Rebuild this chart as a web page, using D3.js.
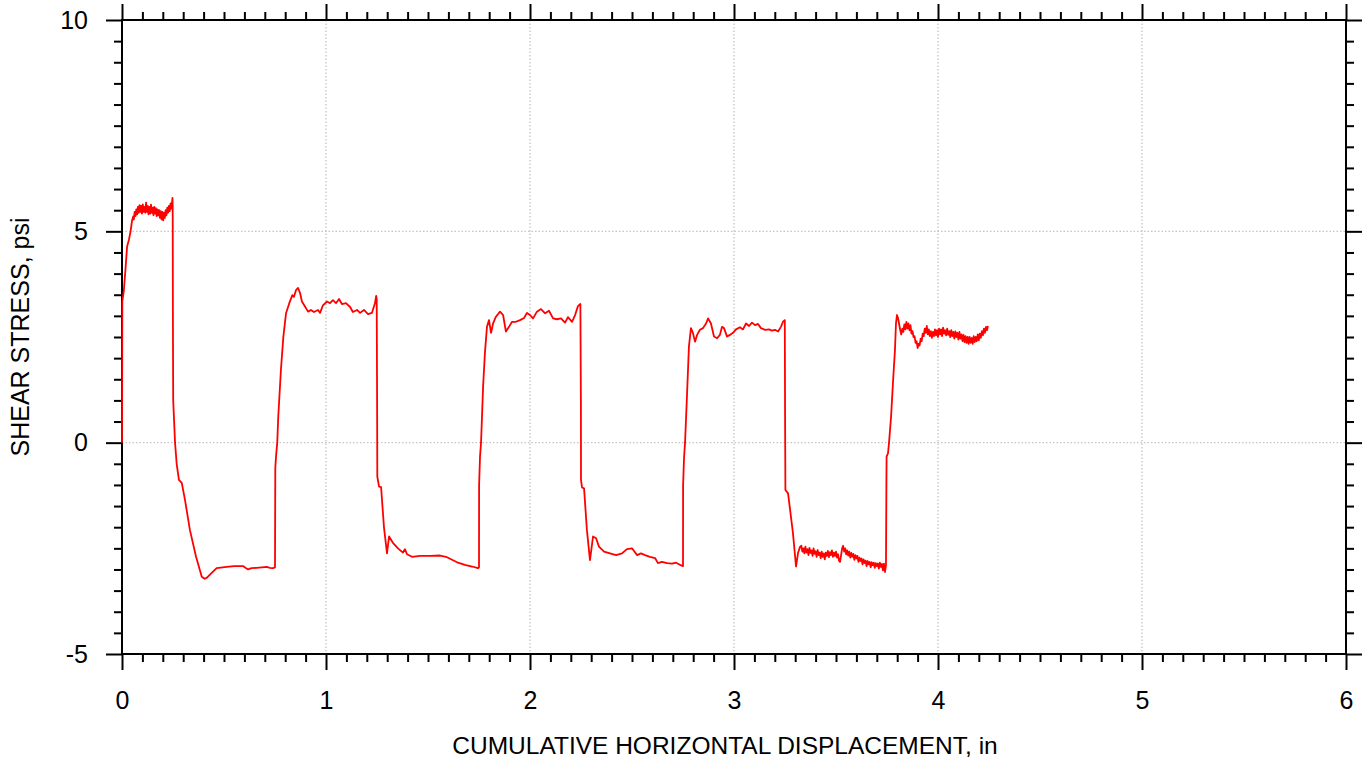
<!DOCTYPE html>
<html>
<head>
<meta charset="utf-8">
<script src="https://cdn.jsdelivr.net/npm/d3@7"></script>
<style>
  html, body { margin: 0; padding: 0; background: #fff; }
  svg { display: block; }
  text { font-family: "Liberation Sans", Arial, Helvetica, sans-serif; fill: #000; }
</style>
</head>
<body>
<svg id="chart" width="1369" height="763"></svg>
<script>
// Shear stress (psi) vs cumulative horizontal displacement (in), reversal shear test.
// Each leg of the test is kept as its own list of [displacement, stress] readings.
const forward1 = [
  [0,0],[0.0008,1.5],[0.0015,3.34],[0.009,3.6],[0.017,4.1],[0.025,4.64],[0.034,4.8],[0.042,5.0],[0.049,5.25],[0.055,5.35],
  [0.058,5.28],[0.062,5.46],[0.066,5.36],[0.070,5.52],[0.074,5.40],[0.078,5.58],[0.082,5.44],[0.086,5.62],[0.090,5.46],
  [0.094,5.60],[0.098,5.42],[0.102,5.64],[0.106,5.46],[0.110,5.58],[0.114,5.44],[0.118,5.68],[0.122,5.46],[0.126,5.60],
  [0.130,5.40],[0.134,5.58],[0.138,5.42],[0.142,5.63],[0.146,5.44],[0.150,5.56],[0.154,5.38],[0.158,5.58],[0.162,5.42],
  [0.166,5.55],[0.170,5.36],[0.174,5.52],[0.178,5.38],[0.182,5.50],[0.186,5.32],[0.190,5.48],[0.194,5.28],[0.198,5.46],
  [0.202,5.26],[0.206,5.44],[0.210,5.32],[0.214,5.50],[0.218,5.38],[0.222,5.56],[0.226,5.44],[0.230,5.60],[0.234,5.48],
  [0.238,5.66],[0.242,5.54],[0.2475,5.79]
];
const reverse1 = [
  [0.2485,5.6],[0.2495,3.0],[0.251,1.0],[0.26,0],[0.268,-0.5],[0.279,-0.88],[0.293,-0.95],[0.309,-1.36],[0.333,-2.07],
  [0.363,-2.7],[0.391,-3.17],[0.405,-3.22],[0.415,-3.2],[0.436,-3.1],[0.464,-2.97],[0.513,-2.94],[0.55,-2.92],[0.593,-2.92],
  [0.605,-2.96],[0.618,-3.0],[0.635,-2.97],[0.66,-2.96],[0.685,-2.95],[0.709,-2.94],[0.725,-2.96],[0.74,-2.97],[0.749,-2.95]
];
const forward2 = [
  [0.750,-2.95],[0.7515,-0.6],[0.755,-0.33],[0.761,0],[0.766,0.62],[0.779,1.72],[0.791,2.51],[0.804,3.06],[0.82,3.3],
  [0.835,3.49],[0.843,3.45],[0.853,3.61],[0.863,3.66],[0.873,3.54],[0.882,3.34],[0.897,3.22],[0.912,3.1],[0.926,3.14],
  [0.941,3.09],[0.961,3.14],[0.971,3.07],[0.985,3.25],[1.005,3.34],[1.02,3.3],[1.034,3.37],[1.049,3.3],[1.064,3.4],
  [1.078,3.28],[1.098,3.3],[1.118,3.21],[1.132,3.09],[1.152,3.14],[1.167,3.07],[1.186,3.14],[1.206,3.04],[1.225,3.07],
  [1.24,3.3],[1.246,3.47]
];
const reverse2 = [
  [1.2485,3.4],[1.2505,1.0],[1.2515,-0.8],[1.26,-1.04],[1.27,-1.05],[1.284,-1.99],[1.299,-2.62],[1.309,-2.22],[1.328,-2.37],
  [1.353,-2.5],[1.377,-2.6],[1.387,-2.52],[1.397,-2.64],[1.422,-2.7],[1.461,-2.68],[1.51,-2.68],[1.559,-2.67],[1.588,-2.7],
  [1.618,-2.77],[1.647,-2.84],[1.681,-2.89],[1.716,-2.93],[1.745,-2.97],[1.75,-2.95]
];
const forward3 = [
  [1.7505,-1.0],[1.755,-0.33],[1.76,0],[1.77,1.32],[1.779,2.12],[1.789,2.74],[1.799,2.9],[1.809,2.6],[1.819,2.82],
  [1.833,2.98],[1.853,3.1],[1.868,3.02],[1.882,2.63],[1.897,2.74],[1.912,2.86],[1.931,2.86],[1.951,2.9],[1.971,2.95],
  [1.985,3.07],[2.0,3.02],[2.015,2.94],[2.034,3.1],[2.054,3.16],[2.074,3.06],[2.093,3.12],[2.113,2.94],[2.132,2.92],
  [2.152,2.94],[2.172,2.84],[2.186,2.97],[2.206,2.86],[2.221,3.02],[2.235,3.23],[2.247,3.28]
];
const reverse3 = [
  [2.2495,1.0],[2.25,-0.88],[2.255,-1.06],[2.265,-1.08],[2.279,-2.07],[2.294,-2.78],[2.309,-2.22],[2.324,-2.26],
  [2.338,-2.46],[2.363,-2.58],[2.392,-2.62],[2.422,-2.66],[2.451,-2.62],[2.475,-2.52],[2.5,-2.5],[2.525,-2.66],
  [2.544,-2.62],[2.564,-2.66],[2.588,-2.7],[2.613,-2.73],[2.627,-2.85],[2.647,-2.82],[2.672,-2.85],[2.696,-2.86],
  [2.716,-2.84],[2.735,-2.89],[2.75,-2.92]
];
const forward4 = [
  [2.7505,-1.0],[2.755,-0.37],[2.76,0],[2.77,1.17],[2.779,2.27],[2.789,2.71],[2.799,2.59],[2.809,2.39],[2.819,2.55],
  [2.833,2.67],[2.848,2.71],[2.863,2.82],[2.873,2.94],[2.887,2.82],[2.902,2.51],[2.917,2.47],[2.931,2.55],[2.941,2.74],
  [2.951,2.71],[2.966,2.51],[2.98,2.55],[2.995,2.6],[3.01,2.68],[3.029,2.73],[3.044,2.68],[3.059,2.82],[3.074,2.76],
  [3.088,2.84],[3.103,2.78],[3.118,2.81],[3.132,2.71],[3.152,2.67],[3.172,2.68],[3.186,2.65],[3.201,2.67],[3.216,2.63],
  [3.23,2.74],[3.24,2.86],[3.249,2.9]
];
const reverse4 = [
  [3.2505,0.5],[3.252,-1.12],[3.265,-1.2],[3.275,-1.59],[3.289,-2.14],[3.304,-2.93],[3.314,-2.61],[3.324,-2.46],
  [3.330,-2.44],[3.335,-2.58],[3.340,-2.50],[3.345,-2.62],[3.350,-2.46],[3.355,-2.60],[3.360,-2.52],[3.365,-2.66],
  [3.370,-2.49],[3.375,-2.61],[3.380,-2.55],[3.385,-2.68],[3.390,-2.50],[3.395,-2.63],[3.400,-2.57],[3.405,-2.70],
  [3.410,-2.54],[3.415,-2.66],[3.420,-2.60],[3.425,-2.73],[3.430,-2.58],[3.435,-2.70],[3.440,-2.62],[3.445,-2.76],
  [3.450,-2.60],[3.455,-2.68],[3.460,-2.56],[3.465,-2.71],[3.470,-2.59],[3.475,-2.66],[3.480,-2.55],[3.485,-2.70],
  [3.490,-2.60],[3.495,-2.68],[3.500,-2.58],[3.505,-2.72],[3.510,-2.64],[3.515,-2.79],[3.520,-2.82],[3.525,-2.66],
  [3.530,-2.50],[3.535,-2.44],[3.540,-2.58],[3.545,-2.50],[3.550,-2.64],[3.555,-2.55],[3.560,-2.67],[3.565,-2.58],
  [3.570,-2.72],[3.575,-2.61],[3.580,-2.70],[3.585,-2.63],[3.590,-2.77],[3.595,-2.66],[3.600,-2.74],[3.605,-2.68],
  [3.610,-2.82],[3.615,-2.72],[3.620,-2.80],[3.625,-2.74],[3.630,-2.88],[3.635,-2.76],[3.640,-2.85],[3.645,-2.79],
  [3.650,-2.92],[3.655,-2.80],[3.660,-2.88],[3.665,-2.82],[3.670,-2.95],[3.675,-2.83],[3.680,-2.90],[3.685,-2.84],
  [3.690,-2.96],[3.695,-2.85],[3.700,-2.92],[3.705,-2.86],[3.710,-2.98],[3.715,-2.84],[3.720,-2.94],[3.725,-2.87],
  [3.730,-3.02],[3.735,-2.86],[3.740,-3.06],[3.745,-2.90]
];
const forward5 = [
  [3.747,-1.0],[3.748,-0.33],[3.755,-0.25],[3.76,0],[3.77,0.62],[3.779,1.4],[3.789,2.19],[3.794,2.82],[3.799,3.02],
  [3.804,2.95],[3.809,2.82],
  [3.815,2.66],[3.820,2.56],[3.825,2.70],[3.830,2.62],[3.835,2.80],[3.840,2.68],[3.845,2.86],[3.850,2.70],[3.855,2.82],
  [3.860,2.66],[3.865,2.78],[3.870,2.58],[3.875,2.64],[3.880,2.50],[3.885,2.52],[3.890,2.36],[3.895,2.40],[3.900,2.24],
  [3.905,2.34],[3.910,2.30],[3.915,2.46],[3.920,2.40],[3.925,2.58],[3.930,2.52],[3.935,2.70],[3.940,2.60],[3.945,2.76],
  [3.950,2.56],[3.955,2.68],[3.960,2.52],[3.965,2.64],[3.970,2.48],[3.975,2.62],[3.980,2.52],[3.985,2.68],[3.990,2.54],
  [3.995,2.66],[4.000,2.50],[4.005,2.70],[4.010,2.56],[4.015,2.68],[4.020,2.52],[4.025,2.72],[4.030,2.58],[4.035,2.66],
  [4.040,2.54],[4.045,2.70],[4.050,2.55],[4.055,2.64],[4.060,2.50],[4.065,2.66],[4.070,2.52],[4.075,2.62],[4.080,2.46],
  [4.085,2.63],[4.090,2.50],[4.095,2.60],[4.100,2.44],[4.105,2.62],[4.110,2.46],[4.115,2.56],[4.120,2.40],[4.125,2.55],
  [4.130,2.38],[4.135,2.52],[4.140,2.36],[4.145,2.50],[4.150,2.34],[4.155,2.50],[4.160,2.36],[4.165,2.48],[4.170,2.34],
  [4.175,2.52],[4.180,2.38],[4.185,2.50],[4.190,2.40],[4.195,2.56],[4.200,2.42],[4.205,2.58],[4.210,2.48],[4.215,2.64],
  [4.220,2.54],[4.225,2.70],[4.230,2.60],[4.235,2.74],[4.240,2.66],[4.245,2.76]
];

// Axis setup
const xDomain = [0, 6];
const yDomain = [-5, 10];
const xMajorTicks = [0, 1, 2, 3, 4, 5, 6];
const yMajorTicks = [-5, 0, 5, 10];
const xMinorStep = 0.1;
const yMinorStep = 0.5;
const xTitle = "CUMULATIVE HORIZONTAL DISPLACEMENT, in";
const yTitle = "SHEAR STRESS, psi";

const W = 1369, H = 763;
const margin = { top: 20, right: 23, bottom: 109, left: 122 };
const plotW = W - margin.left - margin.right;
const plotH = H - margin.top - margin.bottom;

const svg = d3.select("#chart");
const g = svg.append("g").attr("transform", `translate(${margin.left},${margin.top})`);

const x = d3.scaleLinear().domain(xDomain).range([0, plotW]);
const y = d3.scaleLinear().domain(yDomain).range([plotH, 0]);

// dotted grid at the major ticks
const gridColor = "#c4c4c4";
g.append("g").selectAll("line")
  .data(xMajorTicks.slice(1, -1)).join("line")
  .attr("x1", d => x(d)).attr("x2", d => x(d))
  .attr("y1", 0).attr("y2", plotH)
  .attr("stroke", gridColor).attr("stroke-width", 1.3).attr("stroke-dasharray", "1.5,2");
g.append("g").selectAll("line")
  .data(yMajorTicks.slice(1, -1)).join("line")
  .attr("x1", 0).attr("x2", plotW)
  .attr("y1", d => y(d)).attr("y2", d => y(d))
  .attr("stroke", gridColor).attr("stroke-width", 1.3).attr("stroke-dasharray", "1.5,2");

// ticks on all four sides, pointing outward
const xMinor = d3.range(xDomain[0], xDomain[1] + 1e-9, xMinorStep).map(v => +v.toFixed(2)).filter(v => !xMajorTicks.includes(v));
const yMinor = d3.range(yDomain[0], yDomain[1] + 1e-9, yMinorStep).map(v => +v.toFixed(2)).filter(v => !yMajorTicks.includes(v));
const plainFormat = d => String(d);   // keeps the ASCII hyphen in "-5"

function styleAxis(sel) {
  sel.select(".domain").remove();
  sel.selectAll(".tick line").attr("stroke", "#000").attr("stroke-width", 2);
  sel.selectAll(".tick text").attr("font-size", 25).attr("fill", "#000");
}

// bottom
g.append("g").attr("transform", `translate(0,${plotH})`)
  .call(d3.axisBottom(x).tickValues(xMinor).tickSize(8).tickFormat("")).call(styleAxis);
g.append("g").attr("transform", `translate(0,${plotH})`)
  .call(d3.axisBottom(x).tickValues(xMajorTicks).tickSize(16).tickPadding(21).tickFormat(plainFormat))
  .call(styleAxis);
// top
g.append("g").call(d3.axisTop(x).tickValues(xMinor).tickSize(8).tickFormat("")).call(styleAxis);
g.append("g").call(d3.axisTop(x).tickValues(xMajorTicks).tickSize(16).tickFormat("")).call(styleAxis);
// left
g.append("g").call(d3.axisLeft(y).tickValues(yMinor).tickSize(8).tickFormat("")).call(styleAxis);
g.append("g")
  .call(d3.axisLeft(y).tickValues(yMajorTicks).tickSize(16).tickPadding(18).tickFormat(plainFormat))
  .call(styleAxis);
// right
g.append("g").attr("transform", `translate(${plotW},0)`)
  .call(d3.axisRight(y).tickValues(yMinor).tickSize(8).tickFormat("")).call(styleAxis);
g.append("g").attr("transform", `translate(${plotW},0)`)
  .call(d3.axisRight(y).tickValues(yMajorTicks).tickSize(16).tickFormat("")).call(styleAxis);

// frame
g.append("rect")
  .attr("x", 0).attr("y", 0).attr("width", plotW).attr("height", plotH)
  .attr("fill", "none").attr("stroke", "#000").attr("stroke-width", 2);

// the measured curve, drawn over the frame
const legs = [forward1, reverse1, forward2, reverse2, forward3, reverse3, forward4, reverse4, forward5];
const series = legs.flat();
const line = d3.line().x(d => x(d[0])).y(d => y(d[1]));
g.append("path")
  .datum(series)
  .attr("d", line)
  .attr("fill", "none")
  .attr("stroke", "#ff0000")
  .attr("stroke-width", 1.8)
  .attr("stroke-linejoin", "round");

// axis titles
svg.append("text")
  .attr("x", 725).attr("y", 754)
  .attr("text-anchor", "middle")
  .attr("font-size", 24.5)
  .text(xTitle);
svg.append("text")
  .attr("transform", `translate(29,${margin.top + plotH / 2}) rotate(-90)`)
  .attr("text-anchor", "middle")
  .attr("font-size", 25)
  .text(yTitle);
</script>
</body>
</html>
